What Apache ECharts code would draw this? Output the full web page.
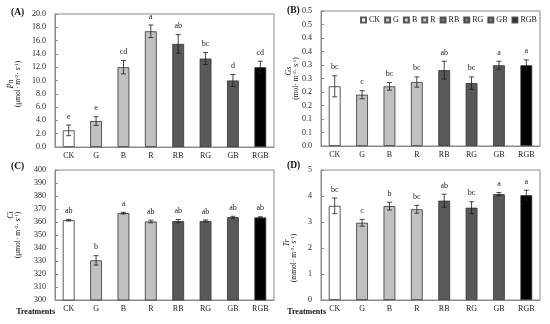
<!DOCTYPE html>
<html><head><meta charset="utf-8">
<script src="https://cdn.jsdelivr.net/npm/echarts@6/dist/echarts.min.js"></script>
<style>html,body{margin:0;padding:0;background:#fff}#c{width:550px;height:324px}</style>
</head><body><div id="c"></div>
<script>
// ---------- data ----------
const categories = ['CK', 'G', 'B', 'R', 'RB', 'RG', 'GB', 'RGB'];

const pnMean = [2.5, 3.9, 12.0, 17.4, 15.5, 13.3, 10.0, 12.0];
const pnErr = [0.8, 0.65, 1.0, 0.95, 1.4, 0.9, 0.9, 0.9];
const pnLetters = ['e', 'e', 'cd', 'a', 'ab', 'bc', 'd', 'cd'];

const gsMean = [0.221, 0.19, 0.221, 0.237, 0.281, 0.233, 0.299, 0.299];
const gsErr = [0.039, 0.015, 0.014, 0.019, 0.033, 0.023, 0.015, 0.02];
const gsLetters = ['bc', 'c', 'bc', 'bc', 'ab', 'bc', 'a', 'a'];
const gsTickLabels = ['0.0', '0.1', '0.1', '0.2', '0.2', '0.3', '0.3', '0.4', '0.4', '0.5', '0.5'];

const ciMean = [361.4, 330.5, 366.8, 360.4, 360.7, 360.8, 363.7, 363.5];
const ciErr = [0.6, 3.6, 0.6, 1.0, 1.2, 0.8, 0.7, 0.5];
const ciLetters = ['ab', 'b', 'a', 'ab', 'ab', 'ab', 'ab', 'ab'];

const trMean = [3.62, 2.97, 3.61, 3.49, 3.82, 3.55, 4.07, 4.03];
const trErr = [0.3, 0.13, 0.15, 0.15, 0.25, 0.23, 0.06, 0.19];
const trLetters = ['bc', 'c', 'b', 'bc', 'ab', 'bc', 'a', 'a'];

// ---------- styles ----------
const SERIF = 'Liberation Serif';
const barColors = ['#ffffff', '#c0c0c0', '#c0c0c0', '#c0c0c0', '#595959', '#595959', '#595959', '#000000'];
const frameColor = '#8a8a8a';

const panels = [
  { mean: pnMean, err: pnErr, letters: pnLetters, min: 0, max: 20, interval: 2,
    fmt: v => v.toFixed(1), grid: { left: 55, top: 14, width: 219, height: 133 },
    sym: 'Pn', unit: 'μmol', nameGap: 33, namePad: [0, 7, 0, 0], symPad: 0, title: '(A)', tx: 11, ty: 8, treat: null },
  { mean: gsMean, err: gsErr, letters: gsLetters, min: 0, max: 0.5, interval: 0.05,
    fmt: v => gsTickLabels[Math.round(v / 0.05)], grid: { left: 321, top: 11, width: 219, height: 135 },
    sym: 'Gs', unit: 'mol', nameGap: 21, namePad: [0, 0, 0, 0], symPad: 15, title: '(B)', tx: 287, ty: 6, treat: null },
  { mean: ciMean, err: ciErr, letters: ciLetters, min: 300, max: 400, interval: 10,
    fmt: v => String(v), grid: { left: 55, top: 170, width: 219, height: 130 },
    sym: 'Ci', unit: 'μmol', nameGap: 33, namePad: [0, 0, 0, 0], symPad: 40, title: '(C)', tx: 11, ty: 162, treat: 0 },
  { mean: trMean, err: trErr, letters: trLetters, min: 0, max: 5, interval: 1,
    fmt: v => String(v), grid: { left: 321, top: 170, width: 219, height: 130 },
    sym: 'Tr', unit: 'mmol', nameGap: 23, namePad: [0, 46, 0, 0], symPad: 30, title: '(D)', tx: 287, ty: 161, treat: -5 }
];

const grid = [], xAxis = [], yAxis = [], series = [], title = [];

panels.forEach((p, k) => {
  grid.push(Object.assign({ show: true, borderColor: frameColor, borderWidth: 1, backgroundColor: 'transparent', outerBoundsMode: 'none' }, p.grid));
  title.push({ text: p.title, left: p.tx, top: p.ty, padding: 0,
    textStyle: { fontFamily: SERIF, fontSize: 9.5, fontWeight: 'bold', color: '#111' } });
  const xa = {
    type: 'category', gridIndex: k, data: categories,
    axisLine: { lineStyle: { color: frameColor, width: 1 } },
    axisTick: { inside: true, length: 3, lineStyle: { color: frameColor } },
    axisLabel: { fontFamily: SERIF, fontSize: 8, color: '#222', margin: 5, interval: 0 },
    splitLine: { show: false }
  };
  if (p.treat !== null) {
    xa.name = 'Treatments';
    xa.nameLocation = 'start';
    xa.nameGap = p.treat;
    xa.nameMoveOverlap = false;
    xa.nameTextStyle = { fontFamily: SERIF, fontSize: 8, fontWeight: 'bold', color: '#111', verticalAlign: 'top', align: 'right', padding: [8, 0, 0, 0] };
  }
  xAxis.push(xa);
  yAxis.push({
    type: 'value', gridIndex: k, min: p.min, max: p.max, interval: p.interval,
    axisLine: { show: true, lineStyle: { color: frameColor, width: 1 } },
    axisTick: { show: true, inside: true, length: 3, lineStyle: { color: frameColor } },
    axisLabel: { fontFamily: SERIF, fontSize: 8, color: '#222', margin: 9, formatter: p.fmt },
    splitLine: { show: false },
    name: '{i|' + p.sym + '}\n{n|(' + p.unit + '· m}{s|-2}{n|· s}{s|-1}{n|)}',
    nameLocation: 'middle', nameGap: p.nameGap, nameRotate: 90, nameMoveOverlap: false,
    nameTextStyle: {
      fontFamily: SERIF, fontSize: 7.5, color: '#222', lineHeight: 7.5, padding: p.namePad,
      rich: {
        i: { fontFamily: SERIF, fontSize: 8, fontStyle: 'italic', color: '#222', lineHeight: 7.5, padding: [0, 0, 0, p.symPad] },
        n: { fontFamily: SERIF, fontSize: 7.5, color: '#222', lineHeight: 7.5 },
        s: { fontFamily: SERIF, fontSize: 5, color: '#222', lineHeight: 7.5, verticalAlign: 'top' }
      }
    }
  });
  series.push({
    type: 'bar', xAxisIndex: k, yAxisIndex: k, barWidth: '43%', silent: true,
    data: p.mean.map((v, i) => ({ value: v, itemStyle: { color: barColors[i], borderColor: '#333', borderWidth: 0.8 } }))
  });
  const letters = p.letters;
  series.push({
    type: 'custom', xAxisIndex: k, yAxisIndex: k, silent: true, z: 5,
    data: p.mean.map((v, i) => [i, v, p.err[i]]),
    renderItem: (params, api) => {
      const i = api.value(0), m = api.value(1), e = api.value(2);
      const t = api.coord([i, m + e]);
      const b = api.coord([i, m - e]);
      const hw = 2.5;
      const st = { stroke: '#1a1a1a', lineWidth: 0.8 };
      return { type: 'group', children: [
        { type: 'line', shape: { x1: t[0], y1: t[1], x2: b[0], y2: b[1] }, style: st },
        { type: 'line', shape: { x1: t[0] - hw, y1: t[1], x2: t[0] + hw, y2: t[1] }, style: st },
        { type: 'line', shape: { x1: b[0] - hw, y1: b[1], x2: b[0] + hw, y2: b[1] }, style: st },
        { type: 'text', x: t[0], y: t[1] - 8.5, style: { text: letters[params.dataIndex], fontFamily: SERIF, fontSize: 8, fill: '#222', align: 'center', verticalAlign: 'middle' } }
      ] };
    }
  });
});

// legend-only series for panel B
categories.forEach((c, i) => {
  series.push({ type: 'scatter', name: c, xAxisIndex: 1, yAxisIndex: 1, data: [],
    itemStyle: { color: barColors[i], borderColor: '#333', borderWidth: 0.8 } });
});

const chart = echarts.init(document.getElementById('c'), null, { renderer: 'canvas' });
chart.setOption({
  animation: false,
  backgroundColor: '#fff',
  title,
  grid, xAxis, yAxis, series,
  legend: {
    data: categories, left: 360, top: 16, padding: 0,
    icon: 'rect', itemWidth: 5, itemHeight: 5, itemGap: 4,
    textStyle: { fontFamily: SERIF, fontSize: 8, color: '#222', padding: [0, 0, 0, -2] },
    selectedMode: false
  }
});
</script>
</body></html>
